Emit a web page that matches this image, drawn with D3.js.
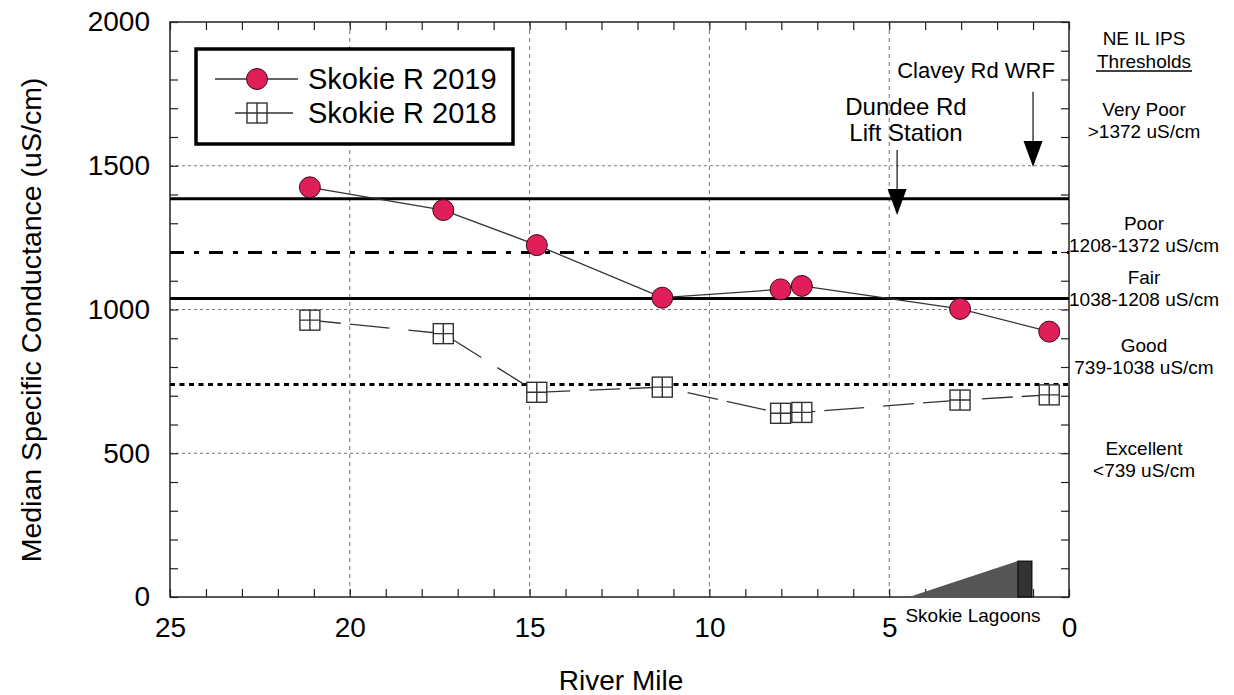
<!DOCTYPE html>
<html>
<head>
<meta charset="utf-8">
<script src="https://cdn.jsdelivr.net/npm/d3@7"></script>
<style>
  body { margin: 0; background: #fff; }
  svg { display: block; font-family: 'Liberation Sans', Arial, sans-serif; }
</style>
</head>
<body>
<svg id="chart" width="1234" height="695"></svg>
<script>
/* globals d3 */

// River mile of each station
const riverMiles = [21.11, 17.40, 14.80, 11.31, 8.02, 7.43, 3.03, 0.55];
// Median specific conductance (uS/cm)
const skokie2019 = [1425, 1346, 1224, 1041, 1070, 1082, 1002, 923];
const skokie2018 = [963, 916, 712, 730, 639, 642, 685, 703];

const xTickLabels = [25, 20, 15, 10, 5, 0];
const yTickLabels = [0, 500, 1000, 1500, 2000];

// Threshold lines as drawn (very poor, poor, fair, good)
const thresholdValues = [1385, 1198, 1038, 739];
const thresholdStyles = ['none', '14,10,5,10', 'none', '5,4.5'];

const thresholdLabels = [
  ['Very Poor', '>1372 uS/cm'],
  ['Poor', '1208-1372 uS/cm'],
  ['Fair', '1038-1208 uS/cm'],
  ['Good', '739-1038 uS/cm'],
  ['Excellent', '<739 uS/cm']
];

const svg = d3.select('#chart');
const plotLeft = 170, plotRight = 1069, plotTop = 22, plotBottom = 597;

const x = d3.scaleLinear().domain([25, 0]).range([plotLeft, plotRight]);
const y = d3.scaleLinear().domain([0, 2000]).range([plotBottom, plotTop]);

// gridlines
const grid = svg.append('g').attr('stroke', '#777').attr('stroke-width', 1);
grid.selectAll('.vgrid').data([20, 15, 10, 5]).enter().append('line')
  .attr('x1', d => x(d)).attr('x2', d => x(d))
  .attr('y1', plotTop).attr('y2', plotBottom)
  .attr('stroke-dasharray', '4,4');
grid.selectAll('.hgrid').data([500, 1000, 1500]).enter().append('line')
  .attr('x1', plotLeft).attr('x2', plotRight)
  .attr('y1', d => y(d)).attr('y2', d => y(d))
  .attr('stroke-dasharray', '3,3');

// axes, ticks all pointing inward
const labelOr = set => d => set.includes(d) ? d : '';
const yTicks = d3.range(0, 2001, 100);
const xTicks = d3.range(0, 26, 1);

const axisStyle = g => {
  g.select('.domain').remove();
  g.selectAll('line').attr('stroke', '#222').attr('stroke-width', 1.2);
  g.selectAll('text').attr('font-size', 28).attr('fill', '#000')
    .attr('font-family', "'Liberation Sans', Arial, sans-serif");
};

svg.append('g').attr('transform', `translate(${plotLeft},0)`)
  .call(d3.axisLeft(y).tickValues(yTicks).tickSize(-8).tickPadding(20)
    .tickFormat(labelOr(yTickLabels)))
  .call(axisStyle);
svg.append('g').attr('transform', `translate(${plotRight},0)`)
  .call(d3.axisRight(y).tickValues(yTicks).tickSize(-8).tickFormat(''))
  .call(axisStyle);
svg.append('g').attr('transform', `translate(0,${plotBottom})`)
  .call(d3.axisBottom(x).tickValues(xTicks).tickSize(-8).tickPadding(20)
    .tickFormat(labelOr(xTickLabels)))
  .call(axisStyle);
svg.append('g').attr('transform', `translate(0,${plotTop})`)
  .call(d3.axisTop(x).tickValues(xTicks).tickSize(-8).tickFormat(''))
  .call(axisStyle);

// frame
svg.append('rect')
  .attr('x', plotLeft).attr('y', plotTop)
  .attr('width', plotRight - plotLeft).attr('height', plotBottom - plotTop)
  .attr('fill', 'none').attr('stroke', '#222').attr('stroke-width', 1.5);

// thresholds
svg.selectAll('.threshold').data(thresholdValues).enter().append('line')
  .attr('x1', plotLeft).attr('x2', plotRight)
  .attr('y1', d => y(d)).attr('y2', d => y(d))
  .attr('stroke', '#000').attr('stroke-width', 3)
  .attr('stroke-dasharray', (d, i) => thresholdStyles[i]);

// Skokie Lagoons marker (in river miles / uS/cm)
const lagoonStart = 4.45, lagoonDam = 1.42, lagoonEnd = 1.03, lagoonHeight = 125;
svg.append('path')
  .attr('d', `M${x(lagoonStart)},${y(0)}L${x(lagoonDam)},${y(lagoonHeight)}L${x(lagoonDam)},${y(0)}Z`)
  .attr('fill', '#555');
svg.append('rect')
  .attr('x', x(lagoonDam)).attr('y', y(lagoonHeight))
  .attr('width', x(lagoonEnd) - x(lagoonDam)).attr('height', y(0) - y(lagoonHeight))
  .attr('fill', '#333').attr('stroke', '#000').attr('stroke-width', 1);

// arrows for point sources
const arrows = [
  { mile: 4.78, from: 1555, to: 1329 },
  { mile: 1.0, from: 1757, to: 1496 }
];
const arrowG = svg.selectAll('.arrow').data(arrows).enter().append('g');
arrowG.append('line')
  .attr('x1', d => x(d.mile)).attr('x2', d => x(d.mile))
  .attr('y1', d => y(d.from)).attr('y2', d => y(d.to) - 20)
  .attr('stroke', '#222').attr('stroke-width', 1.3);
arrowG.append('path')
  .attr('d', d => {
    const cx = x(d.mile), ty = y(d.to);
    return `M${cx - 9.5},${ty - 26}L${cx + 9.5},${ty - 26}L${cx},${ty}Z`;
  })
  .attr('fill', '#000');

// series lines
const pts = vals => vals.map((v, i) => [riverMiles[i], v]);
const line = d3.line().x(d => x(d[0])).y(d => y(d[1]));

svg.append('path').datum(pts(skokie2018))
  .attr('d', line).attr('fill', 'none')
  .attr('stroke', '#333').attr('stroke-width', 1.3)
  .attr('stroke-dasharray', '31,9,40,19');
svg.append('path').datum(pts(skokie2019))
  .attr('d', line).attr('fill', 'none')
  .attr('stroke', '#333').attr('stroke-width', 1.3);

const drawSquare = (sel) => {
  sel.append('rect').attr('x', -10).attr('y', -10).attr('width', 20).attr('height', 20)
    .attr('fill', '#fff').attr('stroke', '#333').attr('stroke-width', 1.4);
  sel.append('path').attr('d', 'M0,-10V10M-10,0H10')
    .attr('stroke', '#333').attr('stroke-width', 1.4);
};
const drawCircle = (sel) => {
  sel.append('circle').attr('r', 10.5)
    .attr('fill', '#e01f5a').attr('stroke', '#3a0a18').attr('stroke-width', 1);
};

svg.selectAll('.sq').data(pts(skokie2018)).enter().append('g')
  .attr('transform', d => `translate(${x(d[0])},${y(d[1])})`)
  .call(drawSquare);
svg.selectAll('.dot').data(pts(skokie2019)).enter().append('g')
  .attr('transform', d => `translate(${x(d[0])},${y(d[1])})`)
  .call(drawCircle);

// legend
const legend = svg.append('g');
legend.append('rect')
  .attr('x', 196).attr('y', 49).attr('width', 317).attr('height', 95)
  .attr('fill', '#fff').attr('stroke', '#000').attr('stroke-width', 3.5);
const legendItems = [
  { label: 'Skokie R 2019', y: 79, x1: 215, x2: 298, draw: drawCircle },
  { label: 'Skokie R 2018', y: 113, x1: 235, x2: 293, draw: drawSquare }
];
legendItems.forEach(item => {
  legend.append('line')
    .attr('x1', item.x1).attr('x2', item.x2).attr('y1', item.y).attr('y2', item.y)
    .attr('stroke', '#333').attr('stroke-width', 1.3);
  legend.append('g').attr('transform', `translate(257,${item.y})`).call(item.draw);
  legend.append('text').attr('x', 308).attr('y', item.y + 10)
    .attr('font-size', 29).text(item.label);
});

// annotation text
const note = (tx, ty, size, str, anchor) => svg.append('text')
  .attr('x', tx).attr('y', ty).attr('font-size', size)
  .attr('text-anchor', anchor || 'middle').text(str);

note(976, 78, 22, 'Clavey Rd WRF');
note(906, 115, 24, 'Dundee Rd');
note(906, 141, 24, 'Lift Station');
note(973, 622, 19, 'Skokie Lagoons');

// threshold legend on the right
const thX = 1144;
note(thX, 45, 19, 'NE IL IPS');
note(thX, 68, 19, 'Thresholds');
svg.append('line').attr('x1', thX - 48).attr('x2', thX + 48)
  .attr('y1', 71).attr('y2', 71).attr('stroke', '#000').attr('stroke-width', 1.3);
const labelYs = [109, 223, 277, 345, 448];
thresholdLabels.forEach((lbl, i) => {
  note(thX, labelYs[i] + 7, 19, lbl[0]);
  note(thX, labelYs[i] + 29, 19, lbl[1]);
});

// axis titles
note(621, 690, 28, 'River Mile');
svg.append('text')
  .attr('transform', 'translate(41,320) rotate(-90)')
  .attr('text-anchor', 'middle').attr('font-size', 28.5)
  .text('Median Specific Conductance (uS/cm)');
</script>
</body>
</html>
